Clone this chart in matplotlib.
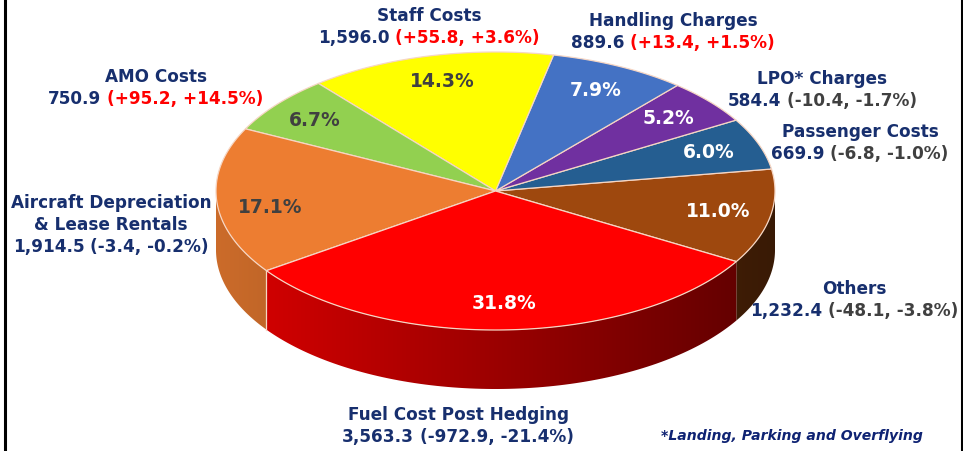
import numpy as np
import matplotlib
matplotlib.use("Agg")
from matplotlib import pyplot as plt
from matplotlib.patches import Polygon
from matplotlib.colors import to_rgb

# slices, counter-clockwise starting from the right side
categories = ["Others", "Passenger Costs", "LPO* Charges", "Handling Charges",
              "Staff Costs", "AMO Costs", "Aircraft Depreciation\n& Lease Rentals",
              "Fuel Cost Post Hedging"]
amounts = [1232.4, 669.9, 584.4, 889.6, 1596.0, 750.9, 1914.5, 3563.3]
amount_labels = ["1,232.4", "669.9", "584.4", "889.6", "1,596.0", "750.9", "1,914.5", "3,563.3"]
changes = ["(-48.1, -3.8%)", "(-6.8, -1.0%)", "(-10.4, -1.7%)", "(+13.4, +1.5%)",
           "(+55.8, +3.6%)", "(+95.2, +14.5%)", "(-3.4, -0.2%)", "(-972.9, -21.4%)"]
shares = [11.0, 6.0, 5.2, 7.9, 14.3, 6.7, 17.1, 31.8]
footnote = "*Landing, Parking and Overflying"

colors = ["#9e480e", "#255e91", "#7030a0", "#4472c4", "#ffff00", "#92d050", "#ed7d31", "#ff0000"]
pct_colors = ["white", "white", "white", "white", "#404040", "#404040", "#404040", "white"]
NAVY = "#172f6e"
GREY = "#404040"
RED = "#ff0000"
change_colors = [GREY, GREY, GREY, RED, RED, RED, NAVY, NAVY]
# label centres (x, y of first line)
label_pos = [(854, 289), (860, 132), (822, 79), (673, 21), (429, 16), (156, 77), (111, 203), (458, 415)]
# small nudges for the percentage labels (pixels)
pct_nudge = [(0, 0), (0, 0), (0, 0), (0, 0), (0, 0), (-4, 0), (0, 8), (0, 0)]

cx, cy, rx, ry, depth = 495.5, 191.0, 279.5, 139.0, 59.0
start = -30.5
EDGE = "#f6d6c4"


def ell(t):
    r = np.radians(t)
    return cx + rx * np.cos(r), cy - ry * np.sin(r)


def shade(x):
    return np.clip(0.86 - 0.5 * (x - (cx - rx)) / (2 * rx), 0.3, 1.0)


fig = plt.figure(figsize=(9.63, 4.51), dpi=100)
ax = fig.add_axes([0, 0, 1, 1])
ax.axis("off")

total = sum(amounts)
angles = [start]
for a in amounts:
    angles.append(angles[-1] + 360.0 * a / total)

# side walls
xs = np.linspace(cx - rx, cx + rx, 600)
for i in range(len(amounts)):
    a0, a1 = angles[i], angles[i + 1]
    for lo, hi in [(-180, 0), (180, 360)]:
        s, e = max(a0, lo), min(a1, hi)
        if e <= s:
            continue
        t = np.linspace(s, e, 100)
        px, py = ell(t)
        pts = np.vstack([np.column_stack([px, py]),
                         np.column_stack([px[::-1], py[::-1] + depth])])
        poly = Polygon(pts, closed=True, facecolor="none", edgecolor="none")
        ax.add_patch(poly)
        img = np.array(to_rgb(colors[i]))[None, None, :] * shade(xs)[None, :, None]
        img = np.repeat(img, 2, axis=0)
        im = ax.imshow(img, extent=(cx - rx, cx + rx, cy + ry + depth + 2, cy - ry - 2),
                       aspect="auto", interpolation="bilinear", zorder=1)
        im.set_clip_path(poly)

# vertical edges on the front side
for a in angles[1:-1]:
    aa = a % 360
    if 180 < aa < 360:
        x, y = ell(aa)
        ax.plot([x, x], [y, y + depth], color=EDGE, lw=0.9, zorder=2)

# top faces
for i in range(len(amounts)):
    t = np.linspace(angles[i], angles[i + 1], 120)
    px, py = ell(t)
    pts = np.vstack([[cx, cy], np.column_stack([px, py])])
    ax.add_patch(Polygon(pts, closed=True, facecolor=colors[i], edgecolor=EDGE,
                         lw=0.9, zorder=3))

# percentage labels
for i in range(len(amounts)):
    mid = np.radians((angles[i] + angles[i + 1]) / 2)
    x = cx + 0.81 * rx * np.cos(mid) + pct_nudge[i][0]
    y = cy - 0.81 * ry * np.sin(mid) + pct_nudge[i][1]
    ax.text(x, y, f"{shares[i]:.1f}%", ha="center", va="center", fontsize=13.5,
            fontweight="bold", color=pct_colors[i], zorder=5)

fig.canvas.draw()
renderer = fig.canvas.get_renderer()
kw = dict(fontsize=12.2, fontweight="bold", family="DejaVu Sans")
line_h = 22
for i in range(len(amounts)):
    x, y = label_pos[i]
    lines = categories[i].split("\n")
    for j, ln in enumerate(lines):
        ax.text(x, y + j * line_h, ln, ha="center", va="center", color=NAVY, **kw)
    y2 = y + len(lines) * line_h
    left, right = amount_labels[i], changes[i]
    probe = ax.text(0, 0, left + " " + right, **kw)
    w = probe.get_window_extent(renderer).width
    probe.remove()
    ax.text(x - w / 2, y2, left, ha="left", va="center", color=NAVY, **kw)
    ax.text(x + w / 2, y2, right, ha="right", va="center", color=change_colors[i], **kw)

ax.text(792, 436, footnote, ha="center", va="center", fontsize=10.1, fontweight="bold",
        style="italic", color="#0f2373")

# frame lines on the sides
ax.axvline(4.5, color="black", lw=2.2)
ax.axvline(961.5, color="black", lw=2.2)

ax.set_xlim(0, 963)
ax.set_ylim(451, 0)
fig.savefig("out.png", dpi=100)
